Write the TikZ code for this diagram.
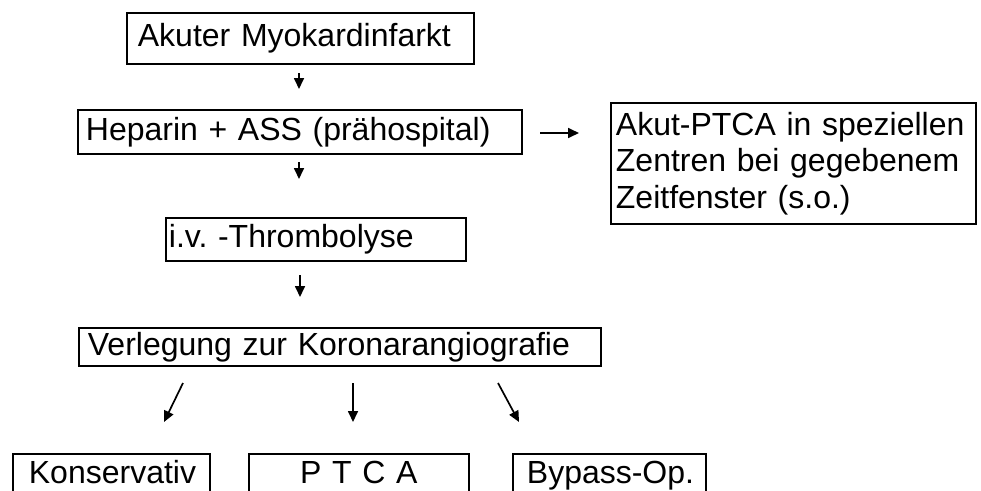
\documentclass[tikz,border=0pt]{standalone}
\usepackage{fontspec}
\setmainfont{Liberation Sans}
\usetikzlibrary{arrows.meta}
\frenchspacing
\tikzset{
  box/.style={draw, line width=1.8pt, anchor=north west, align=left,
    font=\fontsize{32}{36.5}\selectfont, text height=23pt, text depth=6pt,
    inner ysep=0pt},
  arr/.style={-{Triangle[length=11pt,width=10pt]}, line width=1.7pt}
}
\begin{document}
\begin{tikzpicture}[x=1pt, y=-1pt]
  \useasboundingbox (0,0) rectangle (981,490);
  \clip (0,0) rectangle (981,490);
  % Boxes
  \node[box, inner xsep=11pt, text width=325pt, minimum height=51pt] (infarkt) at (126,12) {Akuter Myokardinfarkt};
  \node[box, inner xsep=8pt, text width=428pt, minimum height=44pt] (heparin) at (77,109) {Heparin + ASS (prähospital)};
  \node[box, inner xsep=5pt, text width=355pt, minimum height=121pt, text height=, text depth=] (akutptca) at (610,102) {Akut-PTCA in speziellen\\Zentren bei gegebenem\\Zeitfenster (s.o.)};
  \node[box, inner xsep=3pt, text width=294pt, minimum height=43pt] (lyse) at (165,217) {i.v. -Thrombolyse};
  \node[box, inner xsep=9pt, text width=504pt, minimum height=38pt] (verlegung) at (78,327) {Verlegung zur Koronarangiografie};
  \node[box, inner xsep=16pt, text width=165pt, minimum height=42pt] (konservativ) at (12,453) {Konservativ};
  \node[box, inner xsep=4pt, text width=212pt, minimum height=42pt, align=center] (ptca) at (248,453) {P T C A};
  \node[box, inner xsep=14pt, text width=165pt, minimum height=42pt] (bypass) at (512,453) {\mbox{Bypass-Op.}};
  % Arrow ends
  \coordinate (a1s) at (299,73);  \coordinate (a1e) at (299,89);
  \coordinate (a2s) at (299,162); \coordinate (a2e) at (299,179);
  \coordinate (a3s) at (300,275); \coordinate (a3e) at (300,297);
  \coordinate (a4s) at (540,133); \coordinate (a4e) at (579,133);
  \coordinate (b1s) at (183,383); \coordinate (b1e) at (164,422);
  \coordinate (b2s) at (353,383); \coordinate (b2e) at (353,422);
  \coordinate (b3s) at (498,383); \coordinate (b3e) at (519,422);
  % Arrows
  \draw[arr] (a1s) -- (a1e);
  \draw[arr] (a2s) -- (a2e);
  \draw[arr] (a3s) -- (a3e);
  \draw[arr] (a4s) -- (a4e);
  \draw[arr] (b1s) -- (b1e);
  \draw[arr] (b2s) -- (b2e);
  \draw[arr] (b3s) -- (b3e);
\end{tikzpicture}
\end{document}
